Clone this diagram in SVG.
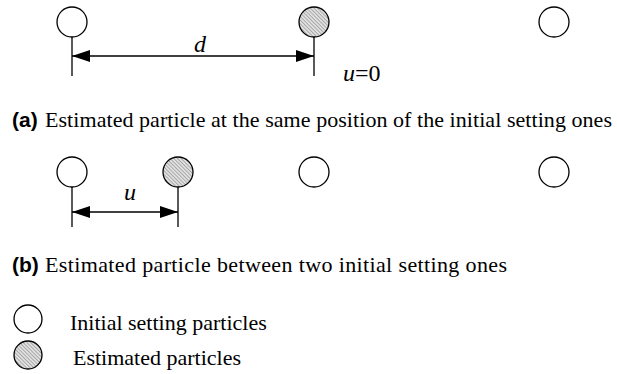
<svg xmlns="http://www.w3.org/2000/svg" width="617" height="374" viewBox="0 0 617 374">
<style>
.p{stroke:#000;stroke-width:1.3;fill:#fff}
.e{stroke:#000;stroke-width:1.3;fill:url(#hatch)}
.ln{stroke:#000;stroke-width:1.3;fill:none}
.ar{stroke:#000;stroke-width:1.3;fill:none;marker-start:url(#ah);marker-end:url(#ah)}
.t{font-family:"Liberation Serif",serif;font-size:22px;fill:#000}
.b{font-family:"Liberation Sans",sans-serif;font-weight:bold;font-size:21px;fill:#000}
.v{font-family:"Liberation Serif",serif;font-size:24px;fill:#000}
.i{font-style:italic}
</style>
<defs>
<pattern id="hatch" patternUnits="userSpaceOnUse" width="2.6" height="2.6" patternTransform="rotate(-45)">
<rect width="2.6" height="2.6" fill="#e0e0e0"/>
<line x1="0" y1="0" x2="0" y2="2.6" stroke="#777" stroke-width="1"/>
</pattern>
<marker id="ah" markerUnits="userSpaceOnUse" markerWidth="19" markerHeight="13" refX="18" refY="6.5" orient="auto-start-reverse">
<path d="M0,0.5 L18,6.5 L0,12.5 Z" fill="#000"/>
</marker>
</defs>
<g id="connectors">
<line class="ln" x1="72" y1="37" x2="72" y2="76"/>
<line class="ln" x1="314" y1="37" x2="314" y2="76"/>
<line class="ar" x1="72" y1="56" x2="314" y2="56"/>
<line class="ln" x1="72" y1="187" x2="72" y2="227"/>
<line class="ln" x1="178" y1="187" x2="178" y2="227"/>
<line class="ar" x1="72" y1="212" x2="178" y2="212"/>
</g>
<g id="a1"><circle class="p" cx="72" cy="22" r="15"/></g>
<g id="a2"><circle class="e" cx="314" cy="22" r="15"/></g>
<g id="a3"><circle class="p" cx="554" cy="22" r="15"/></g>
<g id="b1"><circle class="p" cx="72" cy="172" r="15"/></g>
<g id="b2"><circle class="e" cx="178" cy="172" r="15"/></g>
<g id="b3"><circle class="p" cx="314" cy="172" r="15"/></g>
<g id="b4"><circle class="p" cx="554" cy="172" r="15"/></g>
<g id="labels">
<text class="v i" x="200" y="52" text-anchor="middle">d</text>
<text class="v" x="343" y="81"><tspan class="i">u</tspan>=0</text>
<text class="v i" x="130" y="200" text-anchor="middle">u</text>
<text x="12" y="127"><tspan class="b">(a)</tspan><tspan class="t" x="45" textLength="567" lengthAdjust="spacing">Estimated particle at the same position of the initial setting ones</tspan></text>
<text x="12" y="272"><tspan class="b">(b)</tspan><tspan class="t" x="45" textLength="462" lengthAdjust="spacing">Estimated particle between two initial setting ones</tspan></text>
</g>
<g id="legend-initial">
<circle class="p" cx="28" cy="319" r="14"/>
<text class="t" x="70" y="330">Initial setting particles</text>
</g>
<g id="legend-estimated">
<circle class="e" cx="28" cy="355" r="14"/>
<text class="t" x="73" y="365">Estimated particles</text>
</g>
</svg>
